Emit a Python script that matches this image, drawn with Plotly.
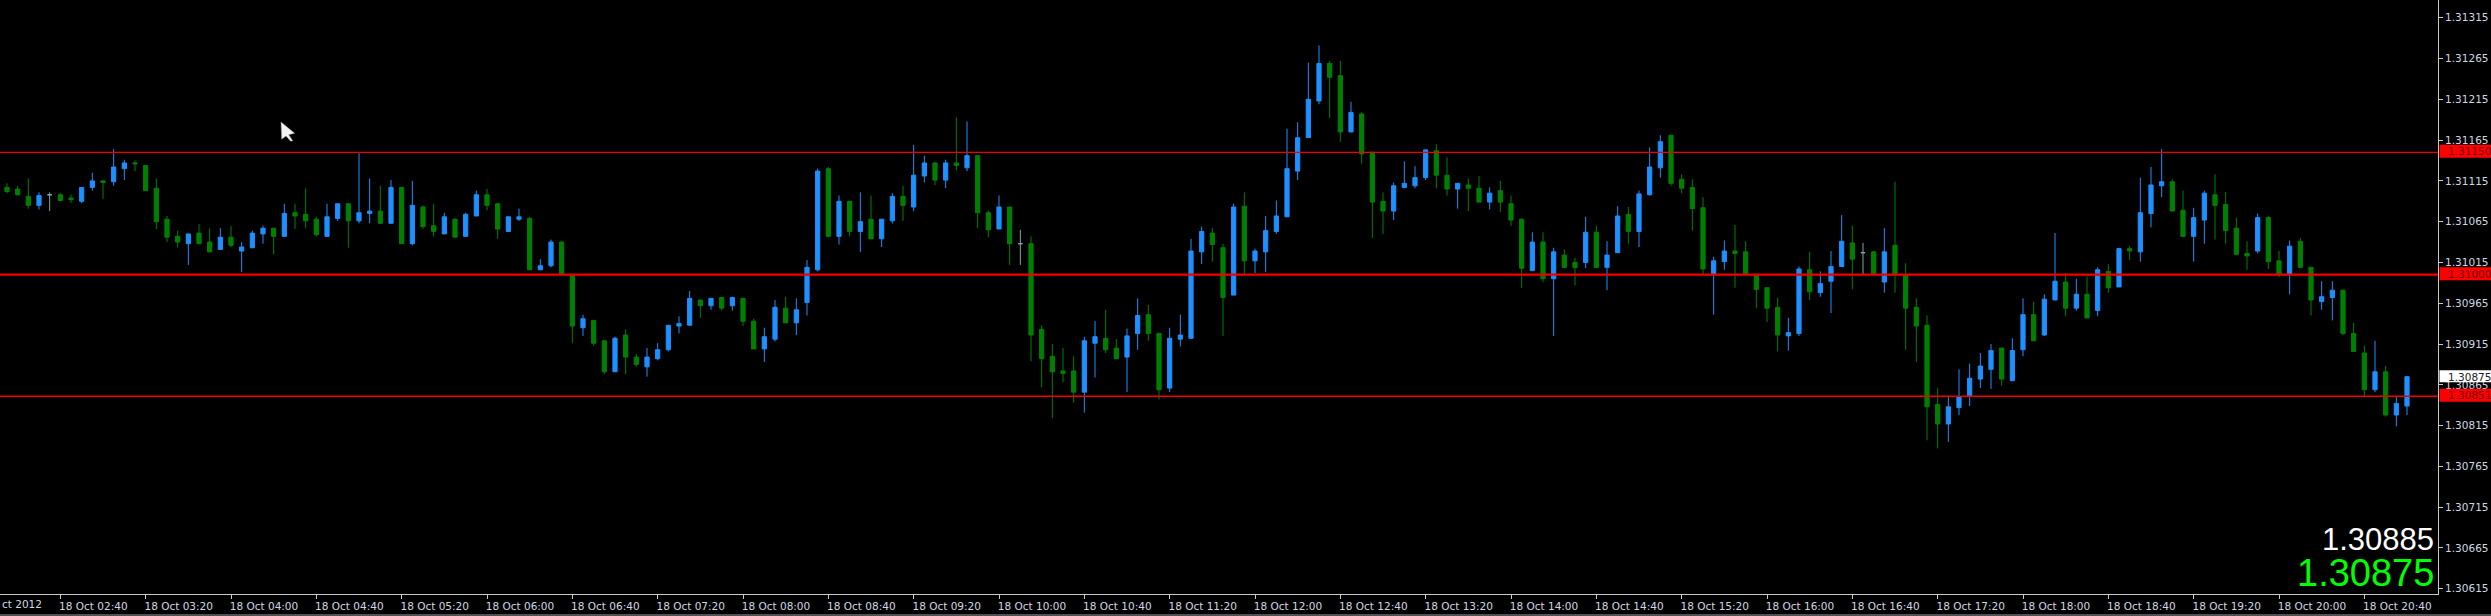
import plotly.graph_objects as go

open_prices = [
1.31107,1.31105,1.31096,1.31085,1.31098,1.31098,1.31094,1.31090,1.31107,1.31115,
1.31114,1.31130,1.31137,1.31134,1.31106,1.31068,1.31047,1.31038,1.31051,1.31040,
1.31031,1.31046,1.31029,1.31033,1.31050,1.31057,1.31047,1.31076,1.31074,1.31068,
1.31047,1.31069,1.31087,1.31066,1.31075,1.31078,1.31063,1.31107,1.31038,1.31083,
1.31060,1.31050,1.31068,1.31047,1.31072,1.31098,1.31087,1.31053,1.31068,1.31069,
1.31006,1.31011,1.31040,1.31000,1.30935,1.30944,1.30919,1.30881,1.30926,1.30899,
1.30887,1.30897,1.30908,1.30937,1.30938,1.30969,1.30962,1.30972,1.30962,1.30971,
1.30943,1.30909,1.30921,1.30959,1.30941,1.30966,1.31006,1.31130,1.31047,1.31090,
1.31053,1.31068,1.31044,1.31066,1.31096,1.31083,1.31121,1.31137,1.31116,1.31137,
1.31131,1.31146,1.31076,1.31056,1.31083,1.31038,1.31038,1.30933,1.30900,1.30882,
1.30882,1.30856,1.30916,1.30922,1.30910,1.30899,1.30928,1.30951,1.30928,1.30861,
1.30921,1.30922,1.31028,1.31051,1.31033,1.30975,1.31084,1.31017,1.31028,1.31053,
1.31071,1.31127,1.31168,1.31213,1.31259,1.31244,1.31175,1.31197,1.31150,1.31090,
1.31078,1.31107,1.31109,1.31119,1.31152,1.31122,1.31105,1.31110,1.31106,1.31089,
1.31103,1.31087,1.31068,1.31005,1.31040,1.30995,1.31024,1.31015,1.31015,1.31052,
1.31009,1.31027,1.31074,1.31053,1.31098,1.31131,1.31171,1.31117,1.31107,1.31082,
1.31000,1.31016,1.31029,1.31028,1.31000,1.30984,1.30960,1.30925,1.30928,1.31006,
1.30978,1.30992,1.31010,1.31039,1.31027,1.31028,1.30991,1.31036,1.31000,1.30960,
1.30938,1.30841,1.30817,1.30837,1.30851,1.30872,1.30884,1.30910,1.30870,1.30908,
1.30951,1.30926,1.30969,1.30991,1.30959,1.30976,1.30956,1.31004,1.30985,1.31032,
1.31028,1.31075,1.31109,1.31114,1.31079,1.31047,1.31067,1.31098,1.31086,1.31057,
1.31026,1.31029,1.31070,1.31017,1.31000,1.31041,1.31009,1.30967,1.30972,1.30981,
1.30928,1.30904,1.30859,1.30881,1.30828,1.30839]

high_prices = [
1.31112,1.31109,1.31118,1.31101,1.31101,1.31100,1.31098,1.31107,1.31125,1.31116,
1.31154,1.31141,1.31140,1.31134,1.31118,1.31072,1.31054,1.31050,1.31062,1.31057,
1.31057,1.31060,1.31040,1.31054,1.31060,1.31057,1.31087,1.31087,1.31106,1.31071,
1.31087,1.31087,1.31087,1.31149,1.31118,1.31109,1.31116,1.31107,1.31115,1.31085,
1.31087,1.31076,1.31069,1.31076,1.31103,1.31105,1.31087,1.31071,1.31081,1.31071,
1.31019,1.31043,1.31041,1.31000,1.30951,1.30944,1.30919,1.30924,1.30933,1.30903,
1.30910,1.30916,1.30938,1.30949,1.30980,1.30969,1.30971,1.30973,1.30973,1.30971,
1.30946,1.30935,1.30969,1.30973,1.30971,1.31018,1.31130,1.31132,1.31097,1.31090,
1.31101,1.31097,1.31068,1.31100,1.31109,1.31159,1.31146,1.31138,1.31141,1.31193,
1.31188,1.31146,1.31079,1.31097,1.31083,1.31055,1.31047,1.30938,1.30915,1.30910,
1.30900,1.30924,1.30943,1.30957,1.30921,1.30934,1.30971,1.30963,1.30928,1.30935,
1.30951,1.31044,1.31059,1.31057,1.31038,1.31087,1.31101,1.31032,1.31072,1.31091,
1.31179,1.31187,1.31260,1.31281,1.31262,1.31262,1.31212,1.31199,1.31151,1.31101,
1.31113,1.31139,1.31133,1.31154,1.31160,1.31144,1.31112,1.31118,1.31121,1.31107,
1.31115,1.31097,1.31069,1.31052,1.31052,1.31033,1.31031,1.31021,1.31071,1.31060,
1.31041,1.31084,1.31083,1.31103,1.31156,1.31171,1.31171,1.31123,1.31117,1.31095,
1.31022,1.31042,1.31061,1.31041,1.31000,1.30984,1.30972,1.30947,1.31010,1.31028,
1.31004,1.31029,1.31073,1.31060,1.31039,1.31029,1.31057,1.31114,1.31014,1.30971,
1.30950,1.30861,1.30850,1.30884,1.30891,1.30904,1.30915,1.30911,1.30922,1.30971,
1.30967,1.30976,1.31051,1.31002,1.30995,1.30998,1.31009,1.31013,1.31033,1.31035,
1.31119,1.31132,1.31154,1.31117,1.31103,1.31082,1.31103,1.31123,1.31101,1.31070,
1.31041,1.31075,1.31072,1.31029,1.31042,1.31045,1.31009,1.30992,1.30992,1.30981,
1.30941,1.30913,1.30919,1.30888,1.30850,1.30876]

low_prices = [
1.31100,1.31097,1.31081,1.31080,1.31078,1.31090,1.31088,1.31088,1.31103,1.31093,
1.31109,1.31116,1.31127,1.31103,1.31056,1.31040,1.31033,1.31012,1.31038,1.31028,
1.31031,1.31034,1.31003,1.31033,1.31038,1.31025,1.31047,1.31056,1.31057,1.31047,
1.31047,1.31066,1.31033,1.31063,1.31063,1.31062,1.31063,1.31038,1.31036,1.31056,
1.31047,1.31050,1.31046,1.31047,1.31072,1.31079,1.31044,1.31053,1.31066,1.31006,
1.31006,1.31009,1.31000,1.30916,1.30925,1.30913,1.30878,1.30881,1.30878,1.30887,
1.30875,1.30895,1.30906,1.30928,1.30938,1.30947,1.30957,1.30956,1.30956,1.30937,
1.30909,1.30893,1.30918,1.30941,1.30926,1.30950,1.31004,1.31047,1.31037,1.31047,
1.31028,1.31044,1.31034,1.31063,1.31066,1.31078,1.31113,1.31110,1.31106,1.31128,
1.31127,1.31057,1.31046,1.31056,1.31012,1.31012,1.30894,1.30862,1.30824,1.30868,
1.30843,1.30831,1.30874,1.30904,1.30897,1.30856,1.30908,1.30919,1.30847,1.30856,
1.30912,1.30922,1.31013,1.31016,1.30925,1.30975,1.31001,1.31002,1.31003,1.31050,
1.31071,1.31116,1.31168,1.31209,1.31192,1.31163,1.31175,1.31136,1.31045,1.31050,
1.31067,1.31106,1.31106,1.31116,1.31106,1.31097,1.31081,1.31078,1.31089,1.31080,
1.31077,1.31060,1.30984,1.31005,1.30991,1.30925,1.31008,1.30987,1.31008,1.31008,
1.30981,1.31027,1.31038,1.31034,1.31097,1.31119,1.31109,1.31100,1.31054,1.31000,
1.30951,1.31006,1.30984,1.31000,1.30959,1.30942,1.30906,1.30907,1.30925,1.30969,
1.30973,1.30953,1.31010,1.30982,1.31000,1.31000,1.30978,1.30978,1.30908,1.30893,
1.30797,1.30787,1.30795,1.30828,1.30839,1.30861,1.30860,1.30864,1.30870,1.30900,
1.30919,1.30925,1.30969,1.30949,1.30956,1.30947,1.30949,1.30978,1.30985,1.31018,
1.31016,1.31058,1.31095,1.31078,1.31047,1.31016,1.31038,1.31043,1.31038,1.31025,
1.31006,1.31026,1.31007,1.30997,1.30976,1.31009,1.30950,1.30957,1.30944,1.30926,
1.30906,1.30851,1.30856,1.30826,1.30814,1.30828]

close_prices = [
1.31102,1.31098,1.31085,1.31097,1.31098,1.31091,1.31092,1.31107,1.31115,1.31113,
1.31132,1.31137,1.31136,1.31103,1.31065,1.31046,1.31040,1.31050,1.31038,1.31028,
1.31046,1.31036,1.31034,1.31051,1.31057,1.31047,1.31075,1.31072,1.31066,1.31049,
1.31071,1.31087,1.31066,1.31076,1.31078,1.31063,1.31107,1.31038,1.31085,1.31059,
1.31053,1.31071,1.31046,1.31074,1.31098,1.31085,1.31056,1.31071,1.31071,1.31006,
1.31011,1.31040,1.31000,1.30937,1.30946,1.30916,1.30881,1.30922,1.30899,1.30890,
1.30899,1.30908,1.30938,1.30940,1.30971,1.30962,1.30971,1.30959,1.30972,1.30943,
1.30909,1.30924,1.30960,1.30941,1.30957,1.31009,1.31127,1.31047,1.31090,1.31053,
1.31065,1.31044,1.31068,1.31096,1.31085,1.31122,1.31137,1.31116,1.31137,1.31134,
1.31146,1.31076,1.31055,1.31083,1.31038,1.31038,1.30926,1.30897,1.30881,1.30879,
1.30856,1.30919,1.30924,1.30908,1.30897,1.30925,1.30950,1.30928,1.30859,1.30922,
1.30926,1.31029,1.31053,1.31037,1.30972,1.31083,1.31017,1.31029,1.31054,1.31072,
1.31130,1.31168,1.31215,1.31259,1.31242,1.31175,1.31199,1.31148,1.31089,1.31078,
1.31109,1.31112,1.31119,1.31153,1.31122,1.31105,1.31112,1.31106,1.31089,1.31100,
1.31089,1.31067,1.31008,1.31040,1.30995,1.31028,1.31009,1.31009,1.31052,1.31009,
1.31024,1.31072,1.31053,1.31099,1.31132,1.31163,1.31112,1.31106,1.31081,1.31007,
1.31017,1.31029,1.31026,1.31000,1.30982,1.30959,1.30926,1.30929,1.31007,1.30979,
1.30989,1.31010,1.31041,1.31019,1.31027,1.31000,1.31028,1.31000,1.30959,1.30937,
1.30838,1.30817,1.30838,1.30850,1.30873,1.30888,1.30907,1.30872,1.30907,1.30951,
1.30919,1.30970,1.30992,1.30959,1.30976,1.30947,1.31006,1.30984,1.31032,1.31029,
1.31076,1.31110,1.31114,1.31078,1.31047,1.31070,1.31100,1.31085,1.31054,1.31025,
1.31023,1.31070,1.31016,1.31000,1.31035,1.31009,1.30969,1.30973,1.30981,1.30928,
1.30906,1.30859,1.30881,1.30828,1.30842,1.30875]

x_tick_positions = [5, 13, 21, 29, 37, 45, 53, 61, 69, 77, 85, 93, 101, 109,
                    117, 125, 133, 141, 149, 157, 165, 173, 181, 189, 197, 205, 213, 221]
x_tick_labels = ["18 Oct 02:40", "18 Oct 03:20", "18 Oct 04:00", "18 Oct 04:40", "18 Oct 05:20",
                 "18 Oct 06:00", "18 Oct 06:40", "18 Oct 07:20", "18 Oct 08:00", "18 Oct 08:40",
                 "18 Oct 09:20", "18 Oct 10:00", "18 Oct 10:40", "18 Oct 11:20", "18 Oct 12:00",
                 "18 Oct 12:40", "18 Oct 13:20", "18 Oct 14:00", "18 Oct 14:40", "18 Oct 15:20",
                 "18 Oct 16:00", "18 Oct 16:40", "18 Oct 17:20", "18 Oct 18:00", "18 Oct 18:40",
                 "18 Oct 19:20", "18 Oct 20:00", "18 Oct 20:40"]
y_ticks = [1.30615, 1.30665, 1.30715, 1.30765, 1.30815, 1.30865, 1.30915, 1.30965,
           1.31015, 1.31065, 1.31115, 1.31165, 1.31215, 1.31265, 1.31315]
level_prices = [1.31150, 1.31000, 1.30851]
level_widths = [1.3, 2.2, 1.3]
bid_price = "1.30885"
ask_price = "1.30875"
last_price = 1.30875

W, H = 2491, 616
PW, PH = 2438, 594


def fx(p):
    return p / PW


def fy(p):
    return 1 - p / PH


UP, DOWN, DOJI = "#1E90FF", "#008000", "#7FA6A6"
TEXT = "#CFD8E2"
FONT = "DejaVu Sans"

idx = list(range(len(open_prices)))
is_doji = [o == c for o, c in zip(open_prices, close_prices)]


def pick(seq, want):
    return [v for v, d in zip(seq, is_doji) if d == want]


fig = go.Figure()
fig.add_trace(go.Candlestick(
    x=pick(idx, False), open=pick(open_prices, False), high=pick(high_prices, False),
    low=pick(low_prices, False), close=pick(close_prices, False),
    increasing=dict(line=dict(color=UP, width=1), fillcolor=UP),
    decreasing=dict(line=dict(color=DOWN, width=1), fillcolor=DOWN),
    whiskerwidth=0, showlegend=False))
fig.add_trace(go.Candlestick(
    x=pick(idx, True), open=pick(open_prices, True), high=pick(high_prices, True),
    low=pick(low_prices, True), close=pick(close_prices, True),
    increasing=dict(line=dict(color=DOJI, width=1), fillcolor=DOJI),
    decreasing=dict(line=dict(color=DOJI, width=1), fillcolor=DOJI),
    whiskerwidth=0, showlegend=False))

shapes = []
annotations = []
for price, lw in zip(level_prices, level_widths):
    shapes.append(dict(type="line", xref="paper", x0=0, x1=1, yref="y", y0=price, y1=price,
                       line=dict(color="#F00000", width=lw), layer="above"))
    shapes.append(dict(type="rect", xref="paper", x0=fx(2439.5), x1=fx(2491), yref="y",
                       ysizemode="pixel", yanchor=price, y0=-5.5, y1=7.5,
                       fillcolor="#FF0000", line=dict(width=0), layer="above"))
    annotations.append(dict(xref="paper", x=fx(2445.5), xanchor="left", yref="y", y=price,
                            yanchor="middle", yshift=1, text=f"{price:.5f}", showarrow=False,
                            font=dict(family=FONT, size=10.5, color="#700000")))
shapes.append(dict(type="rect", xref="paper", x0=fx(2439.5), x1=fx(2491), yref="y",
                   ysizemode="pixel", yanchor=last_price, y0=-5.5, y1=6.5,
                   fillcolor="#FFFFFF", line=dict(width=0), layer="above"))
annotations.append(dict(xref="paper", x=fx(2445.5), xanchor="left", yref="y", y=last_price,
                        yanchor="middle", text=f"{last_price:.5f}", showarrow=False,
                        font=dict(family=FONT, size=10.5, color="#202020")))

# bottom rule of the window and the mouse pointer
shapes.append(dict(type="line", xref="paper", x0=0, x1=fx(W), yref="paper", y0=fy(615), y1=fy(615),
                   line=dict(color="#A0A0A0", width=1), layer="above"))
cursor = [(281, 122), (281.7, 139.3), (286, 136), (290.7, 141.3), (292.7, 140.7), (288.7, 134.7), (294.7, 133.3)]
shapes.append(dict(type="path", xref="paper", yref="paper",
                   path="M " + " L ".join(f"{fx(a):.6f} {fy(b):.6f}" for a, b in cursor) + " Z",
                   fillcolor="#F4F4F4", line=dict(color="#909090", width=0.5), layer="above"))

annotations.append(dict(xref="paper", x=0, xanchor="left", yref="paper", y=fy(604), yanchor="middle",
                        text="ct 2012", showarrow=False,
                        font=dict(family=FONT, size=10.5, color=TEXT)))
annotations.append(dict(xref="paper", x=fx(2436), xanchor="right", yref="paper", y=fy(539), yanchor="middle",
                        text=bid_price, showarrow=False,
                        font=dict(family="Liberation Sans", size=31, color="#FFFFFF")))
annotations.append(dict(xref="paper", x=fx(2436), xanchor="right", yref="paper", y=fy(573), yanchor="middle",
                        text=ask_price, showarrow=False,
                        font=dict(family="Liberation Sans", size=38, color="#00FF00")))

fig.update_layout(
    width=W, height=H, margin=dict(l=0, r=W - PW, t=0, b=H - PH, pad=0),
    paper_bgcolor="#000000", plot_bgcolor="#000000", showlegend=False, boxgap=0.4375,
    shapes=shapes, annotations=annotations,
    xaxis=dict(type="linear", range=[-7 / (32 / 3), (PW - 7) / (32 / 3)], rangeslider=dict(visible=False),
               showgrid=False, zeroline=False, showline=True, linecolor="#C8C8C8", linewidth=1,
               tickmode="array", tickvals=x_tick_positions, ticktext=x_tick_labels,
               ticks="outside", ticklen=4, tickcolor="#C8C8C8", tickwidth=1, tickangle=0,
               ticklabelshift=33, ticklabelstandoff=-2, ticklabeloverflow="allow",
               tickfont=dict(family=FONT, size=10.5, color=TEXT)),
    yaxis=dict(side="right", range=[1.31 - (PH - 274.7) / 81570, 1.31 + 274.7 / 81570],
               showgrid=False, zeroline=False, showline=True, linecolor="#C8C8C8", linewidth=1,
               tickmode="array", tickvals=y_ticks, ticktext=[f"{v:.5f}" for v in y_ticks],
               ticks="outside", ticklen=4, tickcolor="#C8C8C8", tickwidth=1,
               tickfont=dict(family=FONT, size=10.5, color=TEXT)),
)

fig.write_html("out.html", config={"displayModeBar": False},
               post_script="document.body.style.margin='0';document.body.style.background='#000';document.documentElement.style.overflow='hidden';")
